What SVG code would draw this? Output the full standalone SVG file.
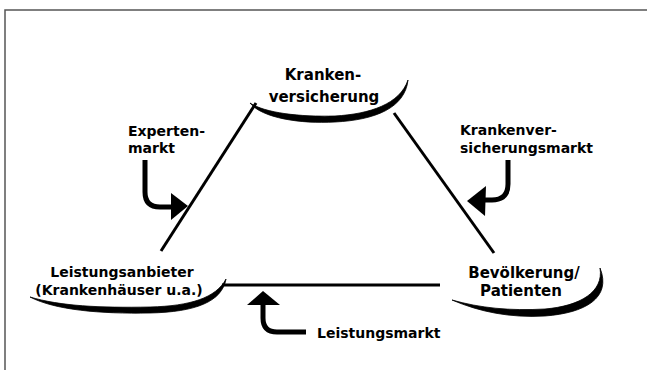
<svg xmlns="http://www.w3.org/2000/svg" width="647" height="370" viewBox="0 0 647 370">
<style>
.t{font-family:"DejaVu Sans","Liberation Sans",sans-serif;font-weight:bold;font-size:14px;fill:#000}
.n{font-size:15px}
.sw{fill:#000;stroke:#000;stroke-width:0.8}
.ln{stroke:#000;stroke-width:3;fill:none}
.ar{stroke:#000;stroke-width:5;fill:none}
.frame{stroke:#555;stroke-width:1.5;fill:none}
</style>
<rect width="647" height="370" fill="#fff"/>
<path class="frame" d="M5,370 V10 H647"/>
<g id="connectors">
<line class="ln" x1="256" y1="103" x2="161" y2="251"/>
<line class="ln" x1="394" y1="113" x2="494" y2="253"/>
<line class="ln" x1="222" y1="285" x2="440" y2="285" stroke-width="3.5"/>
</g>
<g id="node-krankenversicherung">
<path class="sw" d="M250,103 C262,118 300,124 335,122 C375,120 405,108 408,80 C400,104 370,114 335,116 C300,117 265,113 250,103 Z"/>
<text class="t n" x="323" y="80" text-anchor="middle">Kranken-</text>
<text class="t n" x="324" y="102" text-anchor="middle">versicherung</text>
</g>
<g id="node-leistungsanbieter">
<path class="sw" d="M30,297 C55,310 100,314 150,313 C195,312 222,302 226,279 C216,298 190,306 150,307 C100,308 60,306 30,297 Z"/>
<text class="t" x="122" y="277" text-anchor="middle">Leistungsanbieter</text>
<text class="t" x="119" y="295" text-anchor="middle">(Krankenhäuser u.a.)</text>
</g>
<g id="node-bevoelkerung">
<path class="sw" d="M452,300 C480,312 510,318 545,316 C585,313 612,298 600,268 C604,292 580,306 545,309 C510,311 480,308 452,300 Z"/>
<text class="t n" x="524" y="278" text-anchor="middle">Bevölkerung/</text>
<text class="t n" x="521" y="296" text-anchor="middle">Patienten</text>
</g>
<g id="label-expertenmarkt">
<text class="t" x="128" y="136">Experten-</text>
<text class="t" x="128" y="153">markt</text>
<path class="ar" d="M145,160 V192 Q145,207 160,207 H173"/>
<polygon points="171,193 171,220 188,206"/>
</g>
<g id="label-krankenversicherungsmarkt">
<text class="t" x="460" y="135">Krankenver-</text>
<text class="t" x="460" y="153">sicherungsmarkt</text>
<path class="ar" d="M508,160 V184 Q508,200 492,200 H484"/>
<polygon points="486,186 485,216 467,201"/>
</g>
<g id="label-leistungsmarkt">
<text class="t" x="317" y="338">Leistungsmarkt</text>
<path class="ar" d="M263,303 V318 Q263,332 277,332 H306"/>
<polygon points="247,305 280,305 263,291"/>
</g>
</svg>
